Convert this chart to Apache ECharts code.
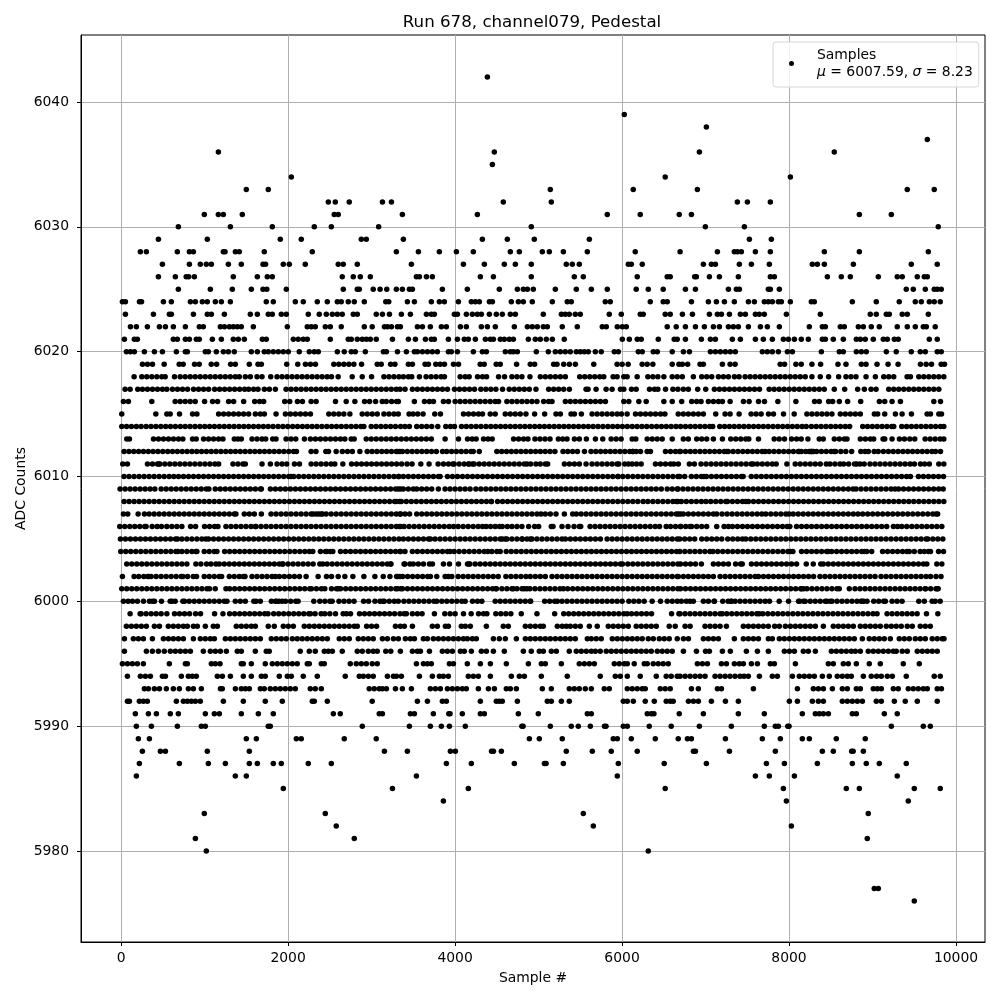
<!DOCTYPE html>
<html><head><meta charset="utf-8">
<script src="https://cdn.jsdelivr.net/npm/echarts@6/dist/echarts.min.js"></script>
<style>html,body{margin:0;padding:0;background:#fff}#c{width:1000px;height:1000px}</style>
</head><body><div id="c"></div>
<script>
const xTicks=[0,2000,4000,6000,8000,10000];
const yTicks=[5980,5990,6000,6010,6020,6030,6040];
const r6042=[4387];
const r6039=[6027];
const r6038=[7010];
const r6037=[9656];
const r6036=[1165,4470,6926,8542];
const r6035=[4447];
const r6034=[2039,6517,8016];
const r6033=[1500,1763,5141,6134,6902,9416,9739];
const r6032=[2482,2566,2733,3130,3238,4578,5153,7381,7501,7776];
const r6031=[997,1165,1225,1452,2553,2601,3369,4267,5823,6218,6685,6831,8842,9225];
const r6030=[686,1309,1811,2314,2518,3085,4913,6998,7465,9787];
const r6029=[447,1033,1907,2158,2877,2937,3381,4327,4626,4949,5608,7525,7788];
const r6028=[231,303,674,818,866,1225,1245,1369,1416,1715,2290,3297,3561,3812,4016,4219,4662,4770,5045,5129,5297,5584,6158,6695,7142,7345,7381,7429,7597,7776,8423,8842,9668];
const r6027=[495,818,949,1021,1081,1285,1440,1700,1730,1943,2015,2206,2601,2661,2829,3477,4100,4351,4590,4722,4913,5332,5404,5488,6075,6111,6242,6974,7070,7118,7405,7549,7764,8279,8339,8423,8770,9464,9775];
const r6026=[447,650,780,810,878,1344,1632,1751,1811,2649,2781,2865,2985,3537,3573,3657,3728,4303,4459,4913,5428,5536,6182,6541,6577,6870,6890,7046,7166,7393,7776,7824,8459,8626,8734,9069,9296,9356,9536,9620,9656];
const r6025=[686,1069,1332,1560,1700,1745,1979,2661,2829,2853,3020,3102,3182,3297,3369,3453,3489,3848,4147,4530,4746,4818,4866,4937,5201,5452,5632,5823,6170,6314,6493,6759,6879,7274,7369,7405,7752,7776,7884,9404,9488,9632,9739,9775,9823];
const r6024=[16,52,220,245,507,602,830,890,973,1033,1129,1201,1309,1739,1823,2087,2182,2350,2470,2590,2637,2721,2793,2913,3170,3206,3429,3513,3716,3812,3872,4040,4195,4243,4291,4411,4447,4674,4758,4818,4925,5165,5344,5392,5799,5859,6338,6493,6541,6831,7034,7130,7226,7345,7513,7585,7704,7752,7800,7872,7908,8016,8267,8303,8758,9045,9320,9512,9584,9680,9739,9811];
const r6023=[52,387,578,602,866,1033,1081,1237,1548,1632,1763,1811,1919,1979,2242,2374,2458,2530,2590,2649,2781,2829,3056,3130,3214,3357,3465,3657,3716,3752,3992,4028,4135,4207,4267,4315,4411,4494,4566,4662,4722,5057,5273,5320,5368,5440,5500,5847,5991,6218,6254,6517,6577,6723,6843,7046,7142,7190,7286,7417,7477,7597,7644,7704,7968,8375,8973,9045,9165,9201,9356,9416,9668];
const r6022=[112,183,315,459,531,626,770,937,985,1189,1237,1297,1344,1392,1440,1584,1991,2230,2278,2326,2446,2506,2637,2913,3008,3154,3190,3238,3310,3345,3549,3609,3704,3836,3896,4064,4135,4315,4387,4482,4710,4866,4925,4985,5057,5105,5284,5464,5763,5811,5943,6003,6051,6541,6649,6759,6879,6986,7094,7166,7274,7333,7393,7513,7657,7740,7884,8243,8399,8435,8614,8662,8830,8890,8985,9081,9296,9416,9512,9608,9644,9751];
const r6021=[40,159,195,626,674,770,818,901,937,1093,1201,1344,1404,1476,1692,1739,2063,2122,2182,2230,2506,2721,2757,2829,2889,2937,2985,3056,3250,3441,3525,3645,3716,3752,3920,4028,4111,4159,4243,4363,4423,4459,4542,4590,4650,4698,4878,4961,5021,5093,5165,5308,6003,6087,6182,6230,6434,6625,6661,6759,6950,7058,7118,7321,7417,7597,7692,7800,7932,7992,8064,8147,8231,8399,8435,8530,8650,8806,8854,8913,9009,9129,9177,9261,9308,9680,9775];
const r6020=[64,112,159,279,399,495,662,770,794,1009,1045,1141,1225,1285,1356,1560,1632,1715,1763,1823,1883,1943,2003,2134,2254,2314,2362,2590,2673,2757,2805,2925,3142,3178,3310,3417,3513,3549,3609,3669,3728,3788,3920,3956,4028,4219,4327,4375,4602,4662,4698,4746,4973,5117,5201,5261,5320,5380,5452,5500,5548,5596,5680,5751,5907,5955,6194,6242,6374,6422,6601,6735,6807,7058,7118,7178,7238,7297,7357,7680,7740,7800,7872,7980,8040,8387,8602,8650,8806,8866,8925,9165,9284,9464,9572,9632,9775,9823];
const r6019=[256,316,376,516,696,744,880,936,1080,1144,1312,1368,1536,1640,1680,1984,2116,2208,2268,2328,2548,2608,2668,2728,2788,2880,3068,3116,3228,3280,3441,3489,3641,3681,3769,3821,3873,3981,4041,4301,4349,4493,4541,4737,4901,4953,5181,5221,5301,5369,5441,5661,5941,6001,6073,6241,6301,6369,6601,6681,6722,6786,6934,6974,7202,7294,7354,7894,7946,8082,8146,8274,8378,8586,8682,8866,8922,9054,9186,9306,9574,9642,9706,9822,9862];
const r6018=[156,248,308,368,428,488,528,640,708,768,828,888,948,1008,1068,1128,1188,1248,1308,1368,1416,1488,1548,1628,1688,1792,1868,1928,1988,2048,2108,2168,2228,2288,2348,2408,2468,2520,2600,2768,2888,3000,3148,3208,3268,3328,3381,3441,3481,3573,3653,3713,3773,3833,3873,4061,4121,4169,4269,4329,4377,4521,4593,4681,4741,4801,4897,5021,5081,5141,5201,5261,5321,5493,5553,5613,5673,5733,5781,5893,5941,6021,6061,6181,6309,6369,6429,6501,6601,6661,6722,6854,6954,7014,7074,7154,7214,7274,7346,7402,7474,7534,7594,7654,7714,7774,7834,7894,7954,8014,8074,8134,8194,8274,8374,8474,8594,8682,8742,8802,8922,9034,9134,9194,9254,9414,9454,9554,9614,9674,9734,9794,9854];
const r6017=[48,108,200,256,316,376,436,496,548,616,676,736,796,868,928,988,1048,1120,1180,1240,1300,1360,1420,1480,1528,1588,1640,1716,1776,1848,1976,2036,2096,2156,2216,2276,2336,2396,2456,2516,2576,2636,2696,2756,2816,2876,2936,2996,3056,3116,3176,3236,3296,3341,3401,3489,3549,3609,3669,3729,3789,3849,3909,3993,4053,4113,4173,4233,4309,4369,4429,4489,4569,4649,4709,4769,4829,4889,4969,5121,5181,5241,5301,5369,5569,5593,5689,5809,5881,5981,6021,6113,6169,6329,6389,6429,6521,6609,6669,6734,6794,6906,7002,7106,7166,7226,7286,7346,7406,7466,7526,7586,7646,7762,7822,7882,7942,8002,8062,8122,8182,8242,8302,8362,8422,8542,8666,8822,8902,8982,9042,9194,9254,9314,9374,9434,9494,9554,9614,9674,9734,9794];
const r6016=[28,88,368,648,708,768,828,888,1000,1096,1156,1288,1348,1468,1600,1660,1708,1960,2020,2112,2172,2276,2336,2568,2696,2800,2916,2976,3048,3128,3176,3240,3300,3321,3513,3633,3693,3741,3861,3921,4001,4061,4121,4181,4241,4301,4361,4421,4481,4521,4621,4681,4741,4801,4861,4921,4981,5061,5121,5161,5321,5381,5441,5501,5561,5621,5681,5741,5801,6021,6081,6201,6289,6501,6601,6714,6834,6894,6946,7034,7094,7154,7202,7294,7454,7522,7634,7706,7866,8082,8306,8362,8474,8522,8602,8702,8858,9082,9146,9234,9334,9734,9814];
const r6015=[8,416,548,588,700,856,908,1168,1228,1288,1348,1408,1468,1528,1608,1668,1716,1856,1968,2028,2088,2148,2208,2268,2488,2548,2608,2668,2740,2888,2948,3008,3068,3148,3208,3268,3320,3449,3497,3553,3617,3757,3825,4101,4161,4221,4281,4329,4421,4481,4601,4661,4721,4781,4849,4953,5073,5209,5261,5389,5429,5513,5641,5701,5761,5821,5881,5941,5993,6061,6161,6221,6281,6341,6401,6461,6513,6673,6734,6794,6854,6914,6974,7122,7234,7294,7402,7546,7606,7666,7754,7814,7934,8062,8214,8274,8334,8394,8454,8514,8614,8674,8734,8794,8854,9022,9062,9146,9274,9354,9466,9654,9694,9794,9826];
const r6014=[8,66,124,183,240,300,358,417,476,534,592,650,710,768,826,885,944,1002,1060,1118,1177,1236,1295,1353,1412,1470,1528,1587,1646,1704,1762,1820,1880,1938,1996,2055,2113,2172,2230,2288,2346,2405,2464,2522,2580,2638,2697,2756,2814,2872,2908,2996,3054,3112,3170,3228,3286,3348,3400,3453,3541,3600,3660,3720,3793,3889,3945,3993,4077,4135,4193,4252,4310,4370,4428,4486,4545,4603,4662,4720,4778,4836,4895,4954,5012,5070,5128,5187,5246,5304,5362,5420,5479,5538,5596,5654,5712,5771,5830,5888,5946,6004,6063,6122,6180,6238,6296,6355,6414,6472,6530,6588,6646,6701,6760,6818,6876,6934,6992,7050,7086,7170,7228,7286,7344,7402,7460,7518,7576,7634,7692,7750,7808,7866,7924,7982,8040,8098,8156,8206,8268,8326,8384,8442,8500,8558,8616,8674,8726,8882,8940,8998,9056,9114,9172,9230,9254,9350,9408,9466,9524,9582,9640,9698,9756,9814,9854];
const r6013=[68,100,388,448,508,568,628,688,740,856,900,988,1048,1108,1168,1220,1356,1400,1440,1568,1628,1688,1732,1816,1856,1976,2036,2092,2196,2268,2328,2388,2448,2508,2568,2628,2680,2756,2792,2936,2996,3056,3116,3176,3236,3296,3356,3416,3476,3536,3596,3656,3716,3881,4041,4149,4205,4253,4341,4395,4445,4701,4761,4821,4873,4957,5017,5077,5137,5237,5289,5341,5429,5489,5573,5681,5769,5869,5929,5989,6121,6165,6301,6361,6421,6481,6601,6734,6794,6894,6954,7014,7094,7202,7302,7362,7422,7482,7518,7634,7822,7882,7946,8030,8090,8146,8226,8362,8410,8542,8602,8662,8694,8854,8914,8974,9014,9126,9146,9234,9322,9382,9446,9506,9630,9690,9750,9810,9854];
const r6012=[36,94,152,210,268,326,384,442,500,558,616,674,732,790,848,906,964,1022,1080,1138,1196,1254,1312,1370,1428,1486,1544,1602,1660,1718,1776,1834,1892,1950,2008,2066,2100,2276,2334,2452,2484,2576,2650,2712,2770,2860,2948,3006,3064,3122,3180,3238,3296,3340,3312,3370,3428,3486,3544,3602,3660,3718,3776,3850,3900,3958,4016,4074,4132,4190,4218,4290,4500,4558,4616,4674,4732,4790,4848,4906,4964,5022,5080,5138,5196,5293,5350,5408,5466,5550,5628,5686,5744,5802,5860,5918,5976,6034,6092,6130,6128,6169,6221,6300,6340,6520,6580,6640,6690,6700,6760,6818,6876,6934,6992,7050,7108,7166,7224,7252,7272,7330,7388,7446,7504,7562,7620,7678,7714,7762,7820,7878,7936,7994,8052,8110,8122,8148,8200,8258,8274,8294,8270,8240,8330,8388,8446,8504,8540,8558,8620,8680,8750,8860,8910,8950,9020,9068,9130,9190,9248,9306,9364,9422,9480,9538,9596,9654,9712,9754,9814];
const r6011=[20,76,316,376,436,452,464,524,584,644,704,764,824,884,944,1004,1064,1124,1168,1340,1400,1460,1488,1688,1788,1868,1928,1984,2076,2136,2276,2336,2396,2456,2516,2560,2656,2760,2820,2880,2940,3000,3060,3120,3180,3240,3300,3360,3425,3485,3590,3689,3797,3861,3921,3974,3989,4049,4109,4169,4161,4209,4229,4289,4349,4409,4469,4529,4589,4649,4709,4769,4829,4861,4905,4969,5021,5081,5109,5309,5369,5429,5489,5569,5641,5701,5761,5821,5881,5941,5961,6033,6077,6121,6173,6229,6400,6460,6520,6580,6620,6674,6806,6866,6946,7006,7066,7126,7186,7246,7306,7366,7426,7486,7546,7570,7620,7680,7740,7800,7846,7974,8074,8134,8194,8254,8314,8374,8446,8490,8550,8610,8654,8714,8784,8810,8850,8900,8970,9030,9090,9150,9210,9270,9330,9390,9450,9502,9574,9624,9680,9794,9854];
const r6010=[36,96,156,216,276,336,396,456,516,576,632,688,748,808,868,928,988,1048,1108,1168,1228,1288,1348,1408,1468,1528,1588,1648,1708,1768,1828,1888,1948,2008,2036,2068,2128,2188,2248,2308,2368,2428,2488,2548,2608,2668,2728,2788,2848,2908,2968,3028,3088,3148,3208,3268,3328,3321,3381,3441,3501,3561,3621,3681,3741,3801,3821,3909,3969,4029,4089,4149,4209,4269,4329,4389,4449,4509,4569,4629,4689,4749,4809,4869,4929,4989,5049,5109,5169,5229,5289,5349,5409,5469,5529,5589,5649,5709,5769,5829,5889,5949,5953,6009,6069,6129,6189,6249,6309,6369,6429,6489,6549,6609,6669,6690,6750,6830,6890,6950,6980,7010,7070,7130,7190,7250,7310,7370,7430,7450,7548,7608,7668,7728,7788,7848,7908,7968,8028,8088,8148,8208,8268,8328,8388,8448,8508,8568,8628,8688,8748,8808,8868,8928,8988,9048,9108,9168,9228,9288,9348,9408,9454,9550,9610,9670,9730,9790,9850];
const r6009=[-12,48,108,168,228,288,348,404,480,540,600,660,720,780,840,900,960,1020,1052,1128,1188,1248,1308,1368,1428,1488,1548,1608,1668,1680,1788,1848,1908,1968,2028,2088,2148,2208,2268,2328,2388,2448,2508,2568,2628,2688,2748,2808,2868,2928,2988,3048,3108,3168,3228,3288,3348,3320,3380,3440,3500,3541,3600,3660,3720,3800,3880,3940,4000,4060,4120,4180,4249,4309,4369,4429,4489,4549,4609,4669,4729,4789,4849,4909,4969,5029,5089,5149,5209,5269,5329,5389,5449,5509,5569,5629,5689,5749,5809,5869,5929,5989,6049,6109,6169,6229,6289,6349,6409,6470,6541,6601,6661,6670,6730,6790,6850,6910,6970,7030,7090,7150,7210,7270,7330,7390,7450,7510,7570,7630,7690,7750,7810,7870,7930,7990,8050,8110,8170,8230,8290,8350,8410,8470,8530,8590,8650,8710,8766,8802,8862,8922,8982,9042,9102,9162,9222,9270,9312,9372,9432,9492,9552,9612,9672,9732,9792,9846];
const r6008=[36,96,156,216,276,336,396,456,516,576,636,696,756,816,876,936,996,1056,1116,1176,1236,1296,1356,1416,1476,1536,1596,1656,1716,1776,1836,1896,1956,2016,2076,2136,2196,2256,2316,2376,2436,2496,2556,2616,2676,2736,2796,2856,2916,2976,3036,3096,3156,3216,3276,3336,3296,3356,3416,3476,3536,3596,3656,3716,3776,3836,3896,3956,4016,4076,4136,4196,4256,4316,4376,4436,4433,4509,4569,4629,4689,4749,4809,4869,4929,4989,5049,5109,5169,5229,5289,5349,5409,5469,5529,5589,5649,5709,5769,5829,5889,5949,6009,6069,6129,6189,6253,6309,6369,6429,6489,6549,6609,6669,6650,6710,6770,6830,6890,6950,7005,7062,7122,7182,7242,7262,7322,7382,7442,7482,7514,7574,7634,7694,7754,7814,7874,7934,7994,8054,8114,8174,8234,8294,8354,8414,8474,8534,8594,8654,8714,8774,8834,8894,8954,9014,9074,9134,9194,9254,9314,9374,9434,9494,9554,9614,9674,9734,9794,9854];
const r6007=[28,80,204,280,336,396,456,516,576,636,696,756,816,876,936,996,1056,1116,1176,1236,1296,1356,1376,1476,1536,1596,1680,1796,1856,1916,1976,2036,2096,2156,2216,2276,2336,2300,2396,2368,2412,2456,2516,2576,2636,2696,2756,2816,2876,2936,2996,3056,3116,3176,3236,3296,3348,3341,3401,3455,3541,3601,3661,3721,3781,3841,3901,3961,4021,4081,4141,4201,4261,4321,4381,4441,4501,4561,4621,4681,4741,4801,4861,4921,4981,5029,5081,5141,5209,5309,5409,5453,5509,5569,5629,5689,5749,5809,5869,5929,5989,6049,6109,6169,6229,6289,6349,6409,6469,6529,6589,6649,6700,6674,6734,6794,6854,6914,6974,7034,7094,7134,7198,7258,7318,7378,7438,7498,7558,7618,7674,7722,7782,7842,7902,7962,8000,8050,8110,8170,8230,8290,8350,8410,8470,8530,8590,8650,8710,8770,8826,8882,8942,9002,9062,9122,9182,9242,9302,9362,9422,9482,9542,9602,9662,9722,9762,9780];
const r6006=[-16,44,104,164,224,284,300,372,432,484,548,608,668,728,832,892,1000,1060,1120,1160,1256,1316,1376,1436,1496,1556,1616,1608,1676,1736,1796,1856,1916,1976,2036,2096,2156,2216,2276,2336,2396,2456,2516,2576,2636,2696,2756,2816,2876,2936,2996,3056,3116,3176,3236,3296,3348,3330,3390,3450,3510,3570,3630,3690,3750,3810,3870,3930,3982,4037,4097,4157,4217,4277,4329,4373,4425,4481,4626,4565,4533,4681,4741,4801,4881,4953,5001,5153,5173,5281,5353,5425,5489,5505,5617,5677,5737,5797,5857,5917,5977,6037,6097,6157,6217,6277,6337,6397,6449,6529,6581,6641,6701,6700,6762,6814,6834,6894,6954,7014,7134,7222,7274,7322,7382,7442,7502,7562,7622,7682,7742,7802,7862,7922,7978,8010,8090,8150,8210,8270,8330,8390,8450,8510,8570,8630,8690,8750,8810,8870,8930,8990,9050,9110,9170,9250,9300,9350,9410,9470,9530,9590,9650,9710,9770,9830];
const r6005=[-8,52,112,172,232,292,352,412,472,532,592,652,676,728,788,848,908,968,1016,1048,1108,1168,1228,1288,1348,1408,1468,1528,1588,1648,1708,1768,1828,1888,1948,2008,2068,2128,2188,2248,2308,2368,2428,2488,2548,2608,2668,2728,2788,2848,2908,2968,3028,3088,3148,3208,3268,3328,3381,3441,3501,3561,3621,3681,3705,3761,3821,3881,3941,4001,4061,4121,4181,4241,4301,4361,4421,4481,4541,4601,4565,4621,4681,4741,4801,4805,4861,4901,4921,4981,5041,5101,5161,5221,5281,5321,5381,5441,5501,5561,5621,5681,5741,5821,5881,5941,6001,6061,6121,6181,6241,6301,6361,6421,6481,6541,6601,6661,6690,6750,6810,6870,6954,7014,7074,7134,7194,7266,7326,7386,7442,7482,7542,7602,7662,7722,7782,7842,7902,7962,8022,8082,8142,8202,8262,8322,8382,8442,8502,8562,8622,8682,8742,8802,8862,8922,8982,9042,9102,9162,9222,9282,9342,9402,9462,9522,9582,9642,9662,9722,9782,9842];
const r6004=[-4,56,116,176,236,296,356,416,476,536,596,656,680,728,788,848,908,896,996,1056,1116,1148,1240,1300,1360,1420,1480,1540,1600,1660,1720,1780,1840,1900,1960,2020,2080,2140,2200,2256,2296,2388,2448,2508,2464,2536,2628,2688,2748,2808,2868,2928,2988,3048,3108,3168,3228,3288,3348,3340,3400,3489,3549,3609,3669,3729,3789,3849,3909,3941,3989,4049,4109,4169,4229,4289,4349,4393,4441,4501,4541,4613,4673,4733,4793,4853,4913,4973,5033,5093,5153,5213,5273,5333,5393,5453,5513,5573,5633,5693,5753,5813,5873,5933,5993,6053,6113,6173,6233,6293,6353,6413,6473,6533,6593,6653,6692,6752,6812,6872,6932,6992,7052,7088,7146,7206,7266,7326,7386,7446,7506,7566,7626,7686,7746,7806,7866,7926,7986,8046,8150,8016,8210,8270,8330,8390,8450,8466,8510,8570,8630,8690,8750,8810,8870,8902,8930,8990,9120,9180,9240,9300,9360,9412,9440,9500,9570,9620,9670,9694,9790,9850];
const r6003=[68,128,188,248,308,368,428,488,548,608,668,728,788,896,956,1024,1076,1136,1176,1236,1296,1356,1416,1476,1536,1596,1656,1716,1776,1836,1896,1932,1940,2000,2060,2120,2180,2240,2300,2380,2416,2468,2528,2588,2648,2708,2768,2828,2888,2948,3008,3068,3128,3188,3232,3228,3400,3389,3460,3500,3560,3621,3693,3729,3861,3933,4041,4165,4177,4149,4241,4301,4361,4421,4481,4541,4601,4661,4721,4781,4841,4901,4961,5021,5081,5141,5201,5261,5321,5381,5441,5501,5561,5621,5681,5741,5801,5861,5921,5981,6005,6069,6129,6189,6249,6309,6369,6429,6489,6549,6609,6669,6700,6760,6820,6880,6950,7094,7154,7214,7274,7360,7420,7440,7550,7610,7670,7730,7790,7850,7910,7970,8030,8090,8290,8206,8380,8410,8470,8530,8590,8650,8710,8770,8830,8890,8950,9010,9070,9130,9190,9250,9310,9370,9430,9490,9550,9610,9650,9770,9830];
const r6002=[16,156,212,272,332,320,360,420,480,540,600,660,720,740,796,864,904,996,1056,1116,1176,1204,1296,1356,1416,1464,1484,1568,1628,1688,1748,1808,1848,1896,1956,2016,2076,2136,2216,2360,2460,2520,2600,2680,2776,2908,3040,3140,3220,3300,3340,3312,3372,3432,3492,3552,3612,3672,3705,3781,3881,3921,3961,4037,4097,4157,4217,4277,4337,4397,4457,4517,4609,4669,4729,4789,4849,4901,4961,5021,5081,5161,5221,5281,5341,5401,5461,5521,5581,5641,5701,5761,5821,5881,5941,6001,6061,6121,6181,6241,6301,6361,6421,6481,6541,6601,6661,6674,6734,6794,6854,6914,6974,7034,7094,7174,7234,7294,7354,7414,7474,7534,7594,7634,7694,7754,7814,7874,7934,7994,8054,8114,8174,8234,8294,8370,8430,8490,8550,8610,8670,8730,8790,8850,8910,8970,9030,9102,9162,9222,9282,9342,9402,9462,9522,9582,9642,9694,9760,9820];
const r6001=[8,68,128,188,248,308,368,428,488,548,608,668,728,788,848,908,968,1028,1060,1128,1256,1300,1360,1420,1480,1540,1600,1660,1720,1780,1840,1900,1960,2020,2080,2140,2200,2260,2280,2340,2400,2440,2520,2580,2600,2628,2690,2750,2810,2870,2930,2990,3050,3110,3170,3230,3290,3348,3310,3370,3430,3490,3550,3610,3670,3730,3790,3850,3910,3970,4030,4090,4150,4210,4270,4330,4390,4450,4490,4495,4561,4621,4681,4697,4741,4801,4861,4829,4897,4957,5017,5077,5137,5197,5257,5297,5349,5409,5469,5529,5589,5649,5709,5769,5829,5889,5949,6009,6069,6129,6189,6249,6309,6369,6429,6489,6549,6609,6669,6700,6760,6820,6880,6940,7000,7060,7120,7180,7240,7300,7360,7420,7480,7540,7600,7660,7720,7780,7840,7900,7960,8020,8080,8140,8150,8174,8214,8274,8334,8394,8454,8514,8574,8602,8722,8790,8850,8910,8970,9030,9090,9150,9210,9270,9330,9390,9450,9510,9570,9630,9636,9696,9774,9760,9786];
const r6000=[28,84,136,196,268,376,340,400,484,588,612,648,740,760,816,876,936,996,1056,1116,1176,1236,1268,1368,1428,1488,1590,1616,1668,1800,1860,1890,1848,1930,1970,2032,2092,2120,2308,2380,2440,2500,2528,2610,2670,2730,2790,2904,2964,3040,3100,3136,3152,3212,3272,3320,3387,3447,3507,3567,3627,3687,3747,3781,3841,3901,3961,4021,4081,4121,4209,4269,4321,4481,4541,4601,4661,4721,4781,4841,4901,4905,5073,5133,5193,5225,5281,5341,5401,5461,5521,5581,5641,5701,5761,5821,5881,5941,6001,6081,6141,6201,6265,6361,6461,6541,6601,6661,6710,6770,6814,6854,6974,7034,7102,7106,7206,7270,7306,7310,7354,7414,7474,7534,7594,7654,7714,7766,7882,7994,8114,8174,8126,8194,8254,8314,8374,8434,8494,8454,8514,8574,8634,8694,8754,8814,8874,8934,8864,8894,9014,9074,9134,9154,9234,9294,9354,9554,9620,9714,9750,9810];
const r5999=[108,228,240,300,360,420,480,548,640,700,760,820,892,952,1120,1220,1300,1360,1420,1480,1540,1600,1660,1720,1760,1828,1888,1948,2008,2068,2128,2188,2248,2268,2324,2396,2440,2500,2568,2660,2700,2748,2856,2916,2976,3036,3096,3156,3216,3276,3340,3390,3417,3489,3549,3605,3753,3877,3941,4001,4101,4193,4281,4341,4381,4488,4548,4608,4668,4793,4981,5193,5301,5361,5421,5481,5541,5601,5661,5721,5781,5841,5901,5961,6021,6061,6113,6173,6233,6293,6353,6593,6681,6694,6754,6814,6874,6934,6994,7054,7114,7174,7200,7254,7314,7374,7434,7494,7554,7614,7642,7686,7746,7806,7866,7926,7986,8046,8106,8166,8226,8286,8346,8406,8466,8526,8586,8646,8706,8766,8826,8886,8946,9006,9054,9174,9234,9294,9354,9414,9474,9534,9646,9782];
const r5998=[64,123,183,243,303,399,459,566,626,686,746,794,866,913,1009,1105,1153,1380,1440,1500,1560,1608,1763,1835,1943,2003,2063,2194,2254,2314,2374,2434,2494,2554,2613,2673,2733,2793,2829,2941,3000,3060,3286,3345,3393,3489,3728,3788,3884,3920,4075,4123,4183,4375,4578,4638,4842,4901,4961,5021,5057,5225,5284,5332,5380,5440,5500,5608,5703,5835,5895,5955,6015,6075,6170,6230,6290,6350,6410,6565,6637,6755,6815,6994,7054,7114,7174,7250,7453,7513,7573,7633,7692,7752,7828,7884,7956,8016,8076,8135,8195,8255,8315,8411,8530,8590,8650,8710,8770,8854,8913,8973,9033,9093,9165,9225,9284,9344,9416,9476,9572,9632,9692];
const r5997=[40,147,207,267,375,507,567,626,686,746,866,949,1009,1069,1117,1249,1309,1368,1428,1488,1548,1608,1668,1799,1859,1919,1979,2051,2110,2170,2230,2290,2350,2410,2470,2613,2673,2733,2841,2901,2961,3020,3130,3190,3262,3321,3405,3465,3513,3621,3669,3740,3800,3860,3920,3980,4040,4100,4147,4207,4255,4459,4530,4602,4734,4842,4901,4961,5021,5081,5141,5201,5261,5320,5380,5440,5584,5632,5691,5751,5883,5943,6003,6063,6122,6182,6242,6314,6374,6446,6505,6565,6661,6735,6795,6974,7034,7094,7154,7345,7453,7513,7573,7633,7752,7800,7884,7944,8004,8064,8123,8183,8243,8303,8363,8423,8482,8542,8602,8662,8722,8782,8878,8961,9021,9081,9141,9213,9320,9380,9440,9512,9572,9632,9715,9775,9835,9856];
const r5996=[40,303,375,447,518,590,650,710,770,830,985,1069,1129,1189,1261,1392,1440,1608,1739,1775,2146,2254,2326,2434,2482,2530,2649,2829,2889,2961,3020,3068,3170,3230,3345,3489,3549,3585,3693,3848,3908,3968,4064,4111,4195,4315,4375,4459,4590,4818,4913,5009,5057,5153,5213,5368,5452,5512,5572,5632,5680,5739,5811,5871,5931,5991,6051,6111,6170,6230,6290,6350,6422,6481,6541,6601,6735,6891,7000,7046,7202,7297,7489,7621,7752,7944,8004,8064,8171,8231,8315,8507,8566,8626,8686,8746,8794,8854,8949,9009,9069,9129,9189,9249,9284,9356,9416,9536,9596,9656,9715,9775];
const r5995=[16,76,135,195,267,578,770,794,1081,1129,1185,1440,1464,1560,1727,1811,1871,1931,1991,2051,2110,2230,2254,2398,2434,2745,2817,2877,2937,3008,3068,3537,3621,3669,3716,3932,3980,4147,4303,4423,4614,4878,5033,5081,5273,5488,5548,5608,5668,5907,5967,6027,6063,6146,6266,6302,6374,6434,6493,6553,6902,6962,7022,7190,7250,7345,7405,7453,7549,7621,7776,7824,8076,8471,8530,8650,8710,8806,8961,9093,9368,9560];
const r5994=[76,231,291,351,495,531,722,806,854,901,1153,1213,1309,1464,1560,1680,1727,1895,1991,2039,2182,2350,2685,2853,2901,2961,3020,3190,3262,3297,3357,3573,3728,3812,3860,3920,4159,4219,4279,4423,4674,4770,4830,5033,5344,5739,5919,5979,6063,6218,6410,6529,6589,6661,6695,6755,6815,6875,6934,6994,7114,7174,7234,7293,7353,7413,7461,7513,7645,7800,7860,8040,8123,8183,8243,8303,8399,8482,8578,8638,8698,8746,8890,8985,9049,9105,9177,9237,9404,9739,9811];
const r5993=[279,327,399,459,542,626,698,806,866,961,1190,1212,1369,1440,1488,1536,1668,1715,1787,1847,1907,1967,2027,2087,2266,2326,2398,2972,3032,3092,3130,3178,3286,3369,3477,3704,3764,3824,3908,3968,4028,4087,4135,4279,4399,4471,4614,4662,4734,5045,5153,5368,5428,5488,5560,5632,5787,5847,6063,6122,6182,6242,6278,6458,6517,6577,6831,6914,7142,7190,7573,8100,8291,8351,8411,8519,8638,8698,8806,8854,9009,9057,9105,9249,9308,9428,9488,9548,9608,9656,9775,9825];
const r5992=[76,100,219,267,315,662,746,794,842,890,949,1225,1464,1727,1931,2290,2314,2470,3008,3549,3669,3848,3896,4303,4494,4530,4566,4746,5105,5153,5273,5368,6015,6063,6135,6278,6386,6529,6577,6613,6795,6855,6914,7070,7238,7393,8004,8100,8279,8351,8411,8638,8698,8758,8818,8878,9045,9105,9261,9392,9536,9775];
const r5991=[171,327,423,590,686,1009,1117,1177,1440,1644,1823,2542,2625,3092,3130,3465,3513,3740,3925,3940,4087,4303,4351,4758,4997,5584,5632,6302,6350,6382,6685,6974,7393,7704,8159,8315,8363,8411,8471,8758,8806,9141,9296];
const r5990=[183,363,674,961,1009,1763,1787,2889,3453,3704,3836,3932,4123,4800,4815,5141,5392,5476,5620,5790,5808,6015,6063,6326,6589,6926,7309,7704,7836,7872,7985,8000,9225,9608,9692];
const r5989=[207,339,1500,1620,2099,2158,2673,3056,4890,5009,5284,5895,5943,6111,6398,6673,6783,6831,7238,7680,7896,8159,8243,8566,8913];
const r5988=[255,471,531,1033,1536,3154,3429,3944,4004,4437,4460,4554,5332,5644,5871,6182,6855,6879,7286,7836,8399,8530,8750,8768,8890];
const r5987=[219,698,1045,1249,1536,1632,1823,1919,2242,2518,3896,4195,4710,5070,5090,5297,5955,6505,7010,7729,7944,8339,8758,8925,9081,9404];
const r5986=[183,1368,1500,3537,5943,7597,7764,8064,9296];
const r5985=[1943,3250,4159,6517,7932,8686,8842,9500,9811];
const r5984=[3860,7968,9428];
const r5983=[997,2446,5536,8949];
const r5982=[2577,5656,8028];
const r5981=[890,2793,8937];
const r5980=[1021,6314];
const r5977=[9021,9069];
const r5976=[9500];
const levels=[6042,6039,6038,6037,6036,6035,6034,6033,6032,6031,6030,6029,6028,6027,6026,6025,6024,6023,6022,6021,6020,6019,6018,6017,6016,6015,6014,6013,6012,6011,6010,6009,6008,6007,6006,6005,6004,6003,6002,6001,6000,5999,5998,5997,5996,5995,5994,5993,5992,5991,5990,5989,5988,5987,5986,5985,5984,5983,5982,5981,5980,5977,5976];
const rows=[r6042,r6039,r6038,r6037,r6036,r6035,r6034,r6033,r6032,r6031,r6030,r6029,r6028,r6027,r6026,r6025,r6024,r6023,r6022,r6021,r6020,r6019,r6018,r6017,r6016,r6015,r6014,r6013,r6012,r6011,r6010,r6009,r6008,r6007,r6006,r6005,r6004,r6003,r6002,r6001,r6000,r5999,r5998,r5997,r5996,r5995,r5994,r5993,r5992,r5991,r5990,r5989,r5988,r5987,r5986,r5985,r5984,r5983,r5982,r5981,r5980,r5977,r5976];
const points=[];
rows.forEach((row,i)=>row.forEach(x=>points.push([x,levels[i]])));
const font='"DejaVu Sans"';
const chart=echarts.init(document.getElementById('c'),null,{renderer:'canvas'});
chart.setOption({
  animation:false,
  backgroundColor:'#fff',
  textStyle:{fontFamily:font},
  title:{text:'Run 678, channel079, Pedestal',left:527,top:9,textAlign:'center',textStyle:{fontFamily:font,fontSize:16.67,fontWeight:'normal',color:'#000'}},
  grid:{left:81,right:15,top:35,bottom:58,show:true,borderColor:'#000',borderWidth:1,backgroundColor:'#fff',outerBoundsMode:'none'},
  legend:{
    show:true,left:773,top:42,width:205,orient:'horizontal',
    padding:[6,6,8,16],itemWidth:5,itemHeight:5,
    backgroundColor:'rgba(255,255,255,0.8)',borderColor:'#d6d6d6',borderWidth:1,borderRadius:3,
    data:[{name:'Samples',icon:'circle'}],
    formatter:()=>'{g|}{t|Samples}\n{g|}{i|μ}{t| = 6007.59, }{i|σ}{t| = 8.23}',
    textStyle:{color:'#000',fontFamily:font,fontSize:13.9,rich:{
      g:{width:18,lineHeight:17},
      t:{fontFamily:font,fontSize:13.9,color:'#000',lineHeight:17},
      i:{fontFamily:font,fontSize:13.9,fontStyle:'italic',color:'#000',lineHeight:17}}}
  },
  xAxis:{type:'value',min:-480,max:10347,name:'Sample #',nameLocation:'middle',nameGap:29,
    nameTextStyle:{fontFamily:font,fontSize:13.9,color:'#000'},
    axisLine:{show:true,onZero:false,lineStyle:{color:'#000',width:1}},
    axisTick:{show:true,length:4,lineStyle:{color:'#000',width:1},customValues:xTicks},
    axisLabel:{show:true,color:'#000',fontFamily:font,fontSize:13.9,margin:9,customValues:xTicks,formatter:v=>String(v)},
    splitLine:{show:true,lineStyle:{color:'#b0b0b0',width:1}}},
  yAxis:{type:'value',min:5972.71,max:6045.37,name:'ADC Counts',nameLocation:'middle',nameGap:53,nameMoveOverlap:false,
    nameTextStyle:{fontFamily:font,fontSize:13.9,color:'#000'},
    axisLine:{show:true,onZero:false,lineStyle:{color:'#000',width:1}},
    axisTick:{show:true,length:4,lineStyle:{color:'#000',width:1},customValues:yTicks},
    axisLabel:{show:true,color:'#000',fontFamily:font,fontSize:13.9,margin:12,customValues:yTicks,formatter:v=>String(v)},
    splitLine:{show:true,lineStyle:{color:'#b0b0b0',width:1}}},
  series:[{name:'Samples',type:'scatter',data:points,symbol:'circle',symbolSize:5.5,itemStyle:{color:'#000',opacity:1},emphasis:{disabled:true},z:3,large:false,silent:true}]
});
</script></body></html>
